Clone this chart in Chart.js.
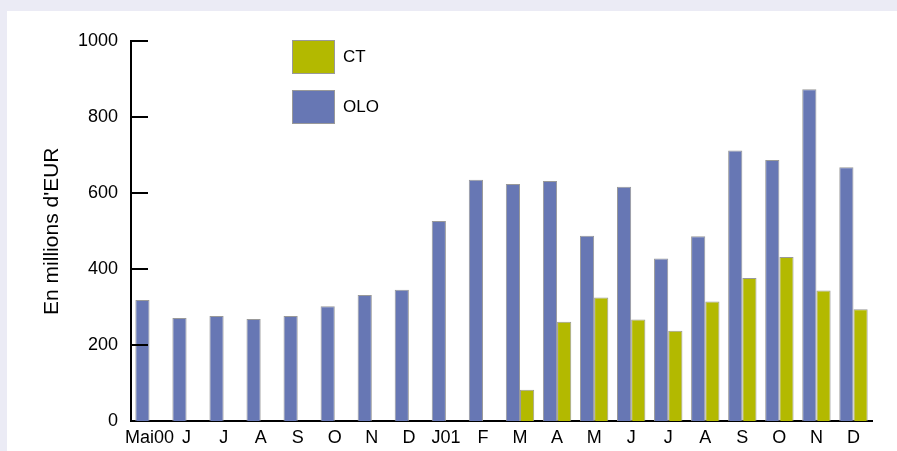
<!DOCTYPE html>
<html>
<head>
<meta charset="utf-8">
<script src="https://cdn.jsdelivr.net/npm/chart.js@4/dist/chart.umd.min.js"></script>
<style>
  html, body { margin: 0; padding: 0; background: #ebebf5; }
  #wrap { width: 897px; height: 451px; }
</style>
</head>
<body>
<div id="wrap"><canvas id="myChart" width="897" height="451"></canvas></div>
<script>
const months = ['Mai00', 'J', 'J', 'A', 'S', 'O', 'N', 'D', 'J01', 'F',
                'M', 'A', 'M', 'J', 'J', 'A', 'S', 'O', 'N', 'D'];
const olo = [319, 272, 277, 269, 277, 303, 332, 346, 527, 635,
             624, 632, 488, 617, 428, 487, 712, 687, 873, 668];
const ct = [null, null, null, null, null, null, null, null, null, null,
            83, 262, 326, 268, 238, 315, 377, 432, 344, 295];
const yTicks = [0, 200, 400, 600, 800, 1000];

const font = 'Liberation Sans, Arial, sans-serif';

// background: lavender frame, white panel
const background = {
    id: 'background',
    beforeDraw(chart) {
        const c = chart.ctx;
        c.save();
        c.fillStyle = '#ebebf5';
        c.fillRect(0, 0, chart.width, chart.height);
        c.fillStyle = '#ffffff';
        c.fillRect(7, 11, chart.width - 7, chart.height - 11);
        c.restore();
    }
};

// tick marks pointing into the plot + legend boxes
const extras = {
    id: 'extras',
    afterDraw(chart) {
        const c = chart.ctx;
        const y = chart.scales.y;
        const left = chart.chartArea.left;
        c.save();
        c.strokeStyle = '#000';
        c.lineWidth = 2;
        y.ticks.forEach(t => {
            if (t.value === 0) return;
            const py = Math.round(y.getPixelForValue(t.value));
            c.beginPath();
            c.moveTo(left, py);
            c.lineTo(left + 17, py);
            c.stroke();
        });

        // legend, CT on top then OLO
        const items = [chart.data.datasets[1], chart.data.datasets[0]];
        c.font = '17px ' + font;
        c.textBaseline = 'middle';
        items.forEach((ds, i) => {
            const bx = 292, by = 40 + i * 50;
            c.fillStyle = ds.backgroundColor;
            c.fillRect(bx, by, 42, 33);
            c.strokeStyle = '#999';
            c.lineWidth = 1;
            c.strokeRect(bx + 0.5, by + 0.5, 42, 33);
            c.fillStyle = '#000';
            c.fillText(ds.label, 343, by + 17);
        });
        c.restore();
    }
};

const ctx = document.getElementById('myChart').getContext('2d');
const myChart = new Chart(ctx, {
    type: 'bar',
    data: {
        labels: months,
        datasets: [{
            label: 'OLO',
            data: olo,
            backgroundColor: '#6777b4',
            borderColor: '#999999',
            borderWidth: 1
        }, {
            label: 'CT',
            data: ct,
            backgroundColor: '#b3b900',
            borderColor: '#999999',
            borderWidth: 1
        }]
    },
    options: {
        responsive: false,
        animation: false,
        layout: {
            padding: { top: 41, right: 25, bottom: -4, left: 0 }
        },
        categoryPercentage: 0.766,
        barPercentage: 1,
        plugins: {
            legend: { display: false },
            tooltip: { enabled: false }
        },
        scales: {
            x: {
                grid: { display: false, drawTicks: false },
                border: { display: true, color: '#000', width: 2 },
                ticks: {
                    color: '#000',
                    padding: 6,
                    maxRotation: 0,
                    autoSkip: false,
                    font: { family: font, size: 18 }
                }
            },
            y: {
                min: 0,
                max: 1000,
                afterBuildTicks(scale) {
                    scale.ticks = yTicks.map(v => ({ value: v }));
                },
                afterFit(scale) {
                    scale.width = 131;
                },
                grid: { drawOnChartArea: false, drawTicks: false },
                border: { display: true, color: '#000', width: 2 },
                ticks: {
                    color: '#000',
                    padding: 13,
                    font: { family: font, size: 18 },
                    callback: v => String(v)
                },
                title: {
                    display: true,
                    text: "En millions d'EUR",
                    color: '#000',
                    padding: { top: 40, bottom: 0 },
                    font: { family: font, size: 21 }
                }
            }
        }
    },
    plugins: [background, extras]
});
</script>
</body>
</html>
